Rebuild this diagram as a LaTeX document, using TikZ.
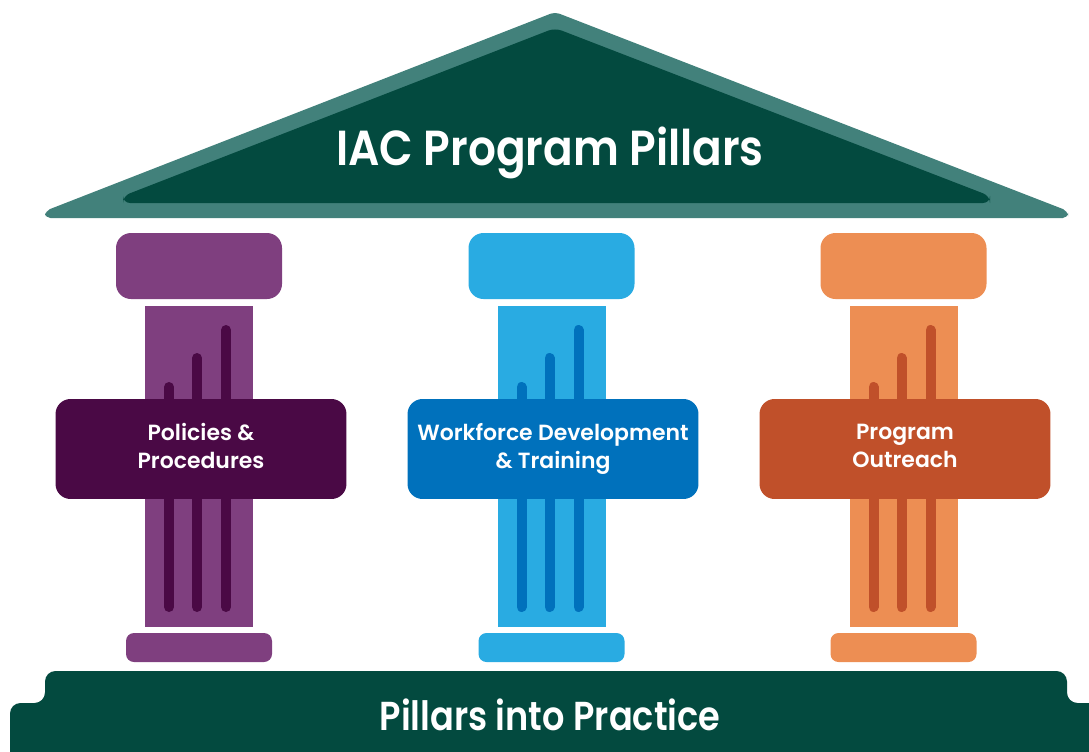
\documentclass[tikz,border=0pt]{standalone}
\usepackage{fontspec}
\setmainfont{Poppins}[BoldFont={Poppins SemiBold}]
\definecolor{roofteal}{HTML}{42817B}
\definecolor{deepgreen}{HTML}{034A3F}
\definecolor{pplight}{HTML}{7F3F7F}
\definecolor{ppdark}{HTML}{4A0945}
\definecolor{wdlight}{HTML}{29ABE2}
\definecolor{wddark}{HTML}{0071BC}
\definecolor{polight}{HTML}{ED8E53}
\definecolor{podark}{HTML}{C0502A}
\begin{document}
\begin{tikzpicture}[x=0.02cm,y=-0.02cm,
    flute/.style={line width=0.2cm, line cap=round},
    labelbox/.style={rounded corners=0.3cm, minimum width=5.82cm, minimum height=2cm,
      align=center, text=white, inner sep=0pt, text depth=3.8pt,
      font=\bfseries\fontsize{12.5}{16}\selectfont}]
    \useasboundingbox (0,0) rectangle (1089,751);
    % roof
    \fill[roofteal, rounded corners=3] (555,12) -- (1068,211) -- (1068,218) -- (45,218) -- (45,211) -- cycle;
    \fill[deepgreen, rounded corners=4] (555,28) -- (990,196) -- (990,203) -- (123,203) -- (123,196) -- cycle;
    \node[anchor=base, text=white, font=\bfseries\fontsize{28}{32}\selectfont] (title) at (550,165) {\scalebox{0.89}[1]{IAC Program Pillars}};
    % pillars
    \foreach \cx/\light/\dark in {199/pplight/ppdark, 551.5/wdlight/wddark, 903.5/polight/podark}{
      \fill[\light, rounded corners=0.3cm] (\cx-83,233) rectangle (\cx+83,299);
      \fill[\light] (\cx-54,306) rectangle (\cx+54,627);
      \draw[flute,\dark] (\cx-30,607) -- (\cx-30,387);
      \draw[flute,\dark] (\cx-2,607) -- (\cx-2,358);
      \draw[flute,\dark] (\cx+27,607) -- (\cx+27,330);
      \fill[\light, rounded corners=0.16cm] (\cx-73,633) rectangle (\cx+73,662);
    }
    \node[labelbox, fill=ppdark] (pp) at (201,449) {Policies \&\\Procedures};
    \node[labelbox, fill=wddark] (wd) at (553,449) {Workforce Development\\\& Training};
    \node[labelbox, fill=podark] (po) at (905,449) {Program\\Outreach};
    % base
    \fill[deepgreen, rounded corners=6] (10,770) -- (10,703) -- (45,703) -- (45,671) -- (1067,671) -- (1067,703) -- (1100,703) -- (1100,770) -- cycle;
    \node[anchor=base, text=white, font=\bfseries\fontsize{23}{27}\selectfont] (practice) at (550,730) {\scalebox{0.87}[1]{Pillars into Practice}};
\end{tikzpicture}
\end{document}
